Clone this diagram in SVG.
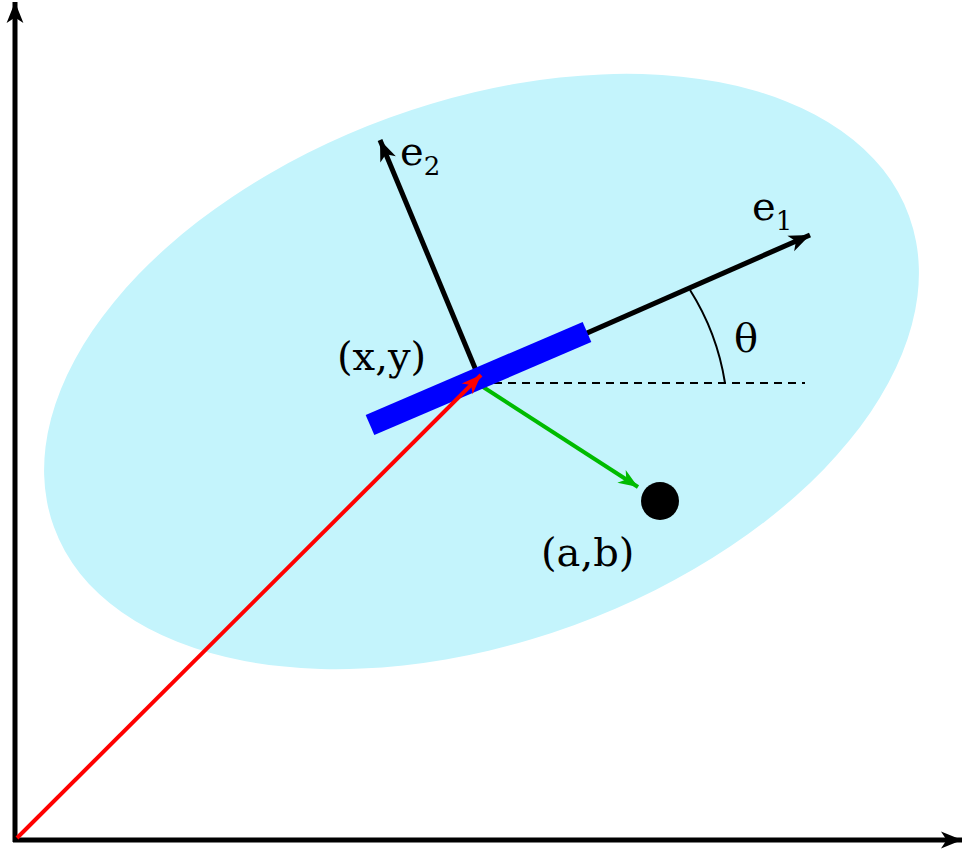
<svg xmlns="http://www.w3.org/2000/svg" width="966" height="857" viewBox="0 0 966 857">
<style>
text{font-family:"DejaVu Serif","Liberation Serif",serif;font-size:40px;fill:#000}
.s{font-size:26px}
</style>
<defs>
<marker id="ak" viewBox="0 0 10 10" refX="9" refY="5" markerWidth="7" markerHeight="7" markerUnits="userSpaceOnUse" orient="auto" style="overflow:visible"><path d="M-30,-12 L0,0 L-30,12 L-22,0 Z" transform="translate(9,5)" fill="#000"/></marker>
<marker id="ar" viewBox="0 0 10 10" refX="9" refY="5" markerWidth="7" markerHeight="7" markerUnits="userSpaceOnUse" orient="auto" style="overflow:visible"><path d="M-28,-11 L0,0 L-28,11 L-20,0 Z" transform="translate(9,5)" fill="#f00"/></marker>
<marker id="ag" viewBox="0 0 10 10" refX="9" refY="5" markerWidth="7" markerHeight="7" markerUnits="userSpaceOnUse" orient="auto" style="overflow:visible"><path d="M-28,-11 L0,0 L-28,11 L-20,0 Z" transform="translate(9,5)" fill="#0b0"/></marker>
</defs>
<g id="ellipse"><ellipse cx="481.5" cy="371.5" rx="455" ry="270" transform="rotate(-20 481.5 371.5)" fill="#c4f4fc"/></g>
<g id="connectors" fill="none">
<line x1="15" y1="842" x2="15" y2="2" stroke="#000" stroke-width="5" marker-end="url(#ak)"/>
<line x1="13" y1="840" x2="962" y2="840" stroke="#000" stroke-width="5" marker-end="url(#ak)"/>
<line x1="480" y1="383" x2="805" y2="383" stroke="#000" stroke-width="2" stroke-dasharray="8,6"/>
<path d="M725,383 A245,245 0 0 0 690,290" stroke="#000" stroke-width="2"/>
<line x1="480" y1="380" x2="810" y2="235" stroke="#000" stroke-width="5" marker-end="url(#ak)"/>
<line x1="480" y1="380" x2="380" y2="140" stroke="#000" stroke-width="5" marker-end="url(#ak)"/>
<line x1="480" y1="385" x2="638" y2="487" stroke="#0b0" stroke-width="4" marker-end="url(#ag)"/>
</g>
<g id="bar"><line x1="370" y1="425" x2="587" y2="332" stroke="#00f" stroke-width="22"/></g>
<g id="red"><line x1="17" y1="838" x2="481" y2="375" stroke="#f00" stroke-width="4" marker-end="url(#ar)"/></g>
<g id="point"><circle cx="660" cy="501" r="19" fill="#000"/></g>
<g id="labels">
<text x="400" y="165">e<tspan class="s" dy="10">2</tspan></text>
<text x="752" y="220">e<tspan class="s" dy="10">1</tspan></text>
<text x="734" y="352">θ</text>
<text x="337" y="370">(x,y)</text>
<text x="541" y="566">(a,b)</text>
</g>
</svg>
